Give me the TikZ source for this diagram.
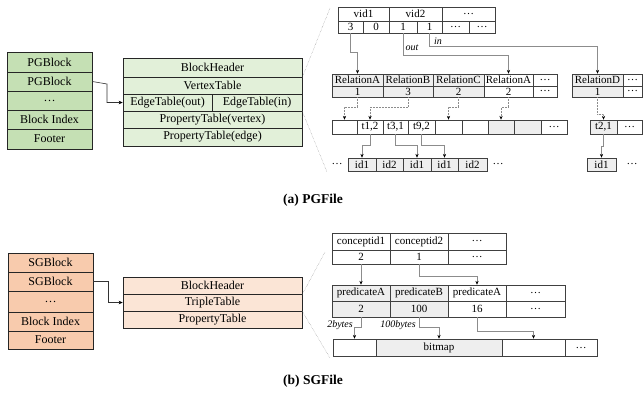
\documentclass[tikz,border=0pt]{standalone}
\usepackage{fontspec}
\setmainfont{Liberation Serif}
\usetikzlibrary{arrows.meta,calc}
\definecolor{pgdark}{HTML}{C5E0B4}
\definecolor{pglight}{HTML}{E2F0D9}
\definecolor{sgdark}{HTML}{F8CBAD}
\definecolor{sglight}{HTML}{FBE5D6}
\definecolor{cgrey}{HTML}{EEEEEE}
\newcommand{\mkcell}[8][cellsty]{%
  \node[#1, fill=#7, minimum width={(#4-#2)*1pt}, minimum height={(#5-#3)*1pt}] (#6) at ({(#2+#4)/2},{(#3+#5)/2}) {#8};}
\tikzset{
  cellsty/.style={draw=black!75, line width=0.6pt, inner sep=0pt, font=\fontsize{11}{12}\selectfont},
  blk/.style={draw=black!85, line width=0.6pt, inner sep=0pt, font=\fontsize{12}{13}\selectfont},
  conn/.style={draw=black!45, line width=0.5pt, -{Stealth[black,length=3.8pt,width=3.2pt]}},
  dconn/.style={conn, densely dotted},
  mainarr/.style={draw=black!80, line width=0.6pt, -{Stealth[black,length=4pt,width=3.5pt]}},
  guide/.style={draw=black!50, line width=0.4pt, densely dotted},
  lab/.style={font=\itshape\fontsize{10}{11}\selectfont, inner sep=0pt},
  capt/.style={font=\bfseries\fontsize{13.5}{15}\selectfont, inner sep=0pt},
  dots/.style={font=\fontsize{11}{12}\selectfont, inner sep=0pt}
}
\begin{document}
\begin{tikzpicture}[x=1pt,y=-1pt]
\useasboundingbox (0,0) rectangle (644,396);
% ---------------- PG left stack
\mkcell[blk]{7}{52}{92}{72}{pga}{pgdark}{PGBlock}
\mkcell[blk]{7}{72}{92}{91}{pgb}{pgdark}{PGBlock}
\mkcell[blk]{7}{91}{92}{110}{pgc}{pgdark}{…}
\mkcell[blk]{7}{110}{92}{129}{pgd}{pgdark}{Block Index}
\mkcell[blk]{7}{129}{92}{149}{pge}{pgdark}{Footer}
% PG block
\mkcell[blk]{123}{58}{302}{77}{pbh}{pglight}{BlockHeader}
\mkcell[blk]{123}{77}{302}{94}{pvt}{pglight}{VertexTable}
\mkcell[blk]{123}{94}{212}{111}{peo}{pglight}{EdgeTable(out)}
\mkcell[blk]{212}{94}{302}{111}{pei}{pglight}{EdgeTable(in)}
\mkcell[blk]{123}{111}{302}{128}{ppv}{pglight}{PropertyTable(vertex)}
\mkcell[blk]{123}{128}{302}{146}{ppe}{pglight}{PropertyTable(edge)}
\draw[mainarr] (pgb.east) -- (107,84) |- (peo.west);
\coordinate (gu1) at (330,8);
\coordinate (gu2) at (327,172);
\draw[guide] (pbh.south east) -- (gu1);
\draw[guide] (pei.south east) -- (gu2);
% vid table
\mkcell{338}{7}{389}{21}{vida}{white}{vid1}
\mkcell{389}{7}{442}{21}{vidb}{white}{vid2}
\mkcell{442}{7}{495}{21}{vidc}{white}{…}
\mkcell{338}{21}{363}{33}{va}{white}{3}
\mkcell{363}{21}{389}{33}{vb}{white}{0}
\mkcell{389}{21}{417}{33}{vc}{white}{1}
\mkcell{417}{21}{442}{33}{vd}{white}{1}
\mkcell{442}{21}{469}{33}{ve}{white}{…}
\mkcell{469}{21}{495}{33}{vf}{white}{…}
% relation table
\mkcell{332}{74}{383}{86}{ra}{cgrey}{RelationA}
\mkcell{383}{74}{433}{86}{rb}{cgrey}{RelationB}
\mkcell{433}{74}{484}{86}{rc}{cgrey}{RelationC}
\mkcell{484}{74}{533}{86}{rd}{white}{RelationA}
\mkcell{533}{74}{557}{86}{re}{white}{…}
\mkcell{332}{86}{383}{97}{na}{cgrey}{1}
\mkcell{383}{86}{433}{97}{nb}{cgrey}{3}
\mkcell{433}{86}{484}{97}{nc}{cgrey}{2}
\mkcell{484}{86}{533}{97}{nd}{white}{2}
\mkcell{533}{86}{557}{97}{ne}{white}{…}
\mkcell{572}{74}{623}{86}{rD}{cgrey}{RelationD}
\mkcell{623}{74}{642}{86}{rDx}{white}{…}
\mkcell{572}{86}{623}{97}{nD}{cgrey}{1}
\mkcell{623}{86}{642}{97}{nDx}{white}{…}
% vid arrows
\draw[conn] (va.south) -- ++(0,19) -| (ra.north);
\draw[conn] (vc.south) -- ++(0,22) -| (rd.north);
\draw[conn] (vd.south) -- ++(0,13) -| (rD.north);
\node[lab] (lout) at (412,48) {out};
\node[lab] (lin) at (438,41.5) {in};
% middle table
\mkcell{332}{120}{357}{134}{ma}{white}{}
\mkcell{357}{120}{383}{134}{mb}{white}{t1,2}
\mkcell{383}{120}{408}{134}{mc}{white}{t3,1}
\mkcell{408}{120}{435}{134}{md}{white}{t9,2}
\mkcell{435}{120}{462}{134}{me}{white}{}
\mkcell{462}{120}{488}{134}{mf}{white}{}
\mkcell{488}{120}{514}{134}{mg}{cgrey}{}
\mkcell{514}{120}{541}{134}{mh}{cgrey}{}
\mkcell{541}{120}{567}{134}{mi}{white}{…}
\mkcell{590}{120}{617}{134}{mD}{cgrey}{t2,1}
\mkcell{617}{120}{642}{134}{mDx}{white}{…}
\draw[dconn] (na.south) -- ++(0,10) -| (ma.north);
\draw[dconn] (nb.south) -- ++(0,10) -| (mb.north);
\draw[dconn] (nc.south) -- ++(0,10) -| (me.north);
\draw[dconn] (nd.south) -- ++(0,10) -| (mg.north);
\draw[dconn] (nD.south) -- ++(0,17) -| (mD.north);
% id table
\node[dots] (ida0) at (337,164.5) {…};
\mkcell{348}{158}{376}{171}{ida}{cgrey}{id1}
\mkcell{376}{158}{403}{171}{idb}{cgrey}{id2}
\mkcell{403}{158}{431}{171}{idc}{cgrey}{id1}
\mkcell{431}{158}{458}{171}{idd}{cgrey}{id1}
\mkcell{458}{158}{487}{171}{ide}{cgrey}{id2}
\node[dots] (idf) at (498,164.5) {…};
\mkcell{587}{158}{616}{171}{idD}{cgrey}{id1}
\node[dots] (idDx) at (632,164.5) {…};
\draw[conn] (mb.south) -- ++(0,11) -| (ida.north);
\draw[conn] (mc.south) -- ++(0,11) -| (idc.north);
\draw[conn] (md.south) -- ++(0,11) -| (idd.north);
\draw[conn] (mD.south) -- ++(0,12) -| (idD.north);
\node[capt] (capa) at (313,200) {(a) PGFile};
% ---------------- SG left stack
\mkcell[blk]{8}{253}{93}{272}{sga}{sgdark}{SGBlock}
\mkcell[blk]{8}{272}{93}{291}{sgb}{sgdark}{SGBlock}
\mkcell[blk]{8}{291}{93}{312}{sgc}{sgdark}{…}
\mkcell[blk]{8}{312}{93}{331}{sgd}{sgdark}{Block Index}
\mkcell[blk]{8}{331}{93}{349}{sge}{sgdark}{Footer}
\mkcell[blk]{123}{277}{302}{294}{sbh}{sglight}{BlockHeader}
\mkcell[blk]{123}{294}{302}{311}{stt}{sglight}{TripleTable}
\mkcell[blk]{123}{311}{302}{328}{spt}{sglight}{PropertyTable}
\draw[mainarr] (sgb.east) -- (108,281.5) |- (stt.west);
\coordinate (gu3) at (325,252);
\coordinate (gu4) at (330,358);
\draw[guide] (sbh.south east) -- (gu3);
\draw[guide] (stt.south east) -- (gu4);
% concept table
\mkcell{332}{233}{390}{250}{ca}{white}{conceptid1}
\mkcell{390}{233}{448}{250}{cb}{white}{conceptid2}
\mkcell{448}{233}{506}{250}{cc}{white}{…}
\mkcell{332}{250}{390}{264}{cna}{white}{2}
\mkcell{390}{250}{448}{264}{cnb}{white}{1}
\mkcell{448}{250}{506}{264}{cnc}{white}{…}
% predicate table
\mkcell{332}{285}{390}{301}{pa}{cgrey}{predicateA}
\mkcell{390}{285}{448}{301}{pb}{cgrey}{predicateB}
\mkcell{448}{285}{506}{301}{pc}{white}{predicateA}
\mkcell{506}{285}{565}{301}{pd}{white}{…}
\mkcell{332}{301}{390}{317}{pna}{cgrey}{2}
\mkcell{390}{301}{448}{317}{pnb}{cgrey}{100}
\mkcell{448}{301}{506}{317}{pnc}{white}{16}
\mkcell{506}{301}{565}{317}{pnd}{white}{…}
\draw[conn] (cna.south) -- (pa.north);
\draw[conn] (cnb.south) -- ++(0,12) -| (pc.north);
% bitmap table
\mkcell{333}{339}{376}{356}{ba}{white}{}
\mkcell{376}{339}{502}{356}{bb}{cgrey}{bitmap}
\mkcell{502}{339}{565}{356}{bc}{white}{}
\mkcell{565}{339}{597}{356}{bd}{white}{…}
\draw[conn] (pna.south) -- ++(0,10) -| (ba.north);
\draw[conn] (pnb.south) -- ++(0,10) -| (bb.north);
\draw[conn] (pnc.south) -- ++(0,14) -| (bc.north);
\node[lab, anchor=east] (l2b) at (353,325) {2bytes};
\node[lab, anchor=east] (l100b) at (416,325) {100bytes};
\node[capt] (capb) at (313,381) {(b) SGFile};
\end{tikzpicture}
\end{document}
